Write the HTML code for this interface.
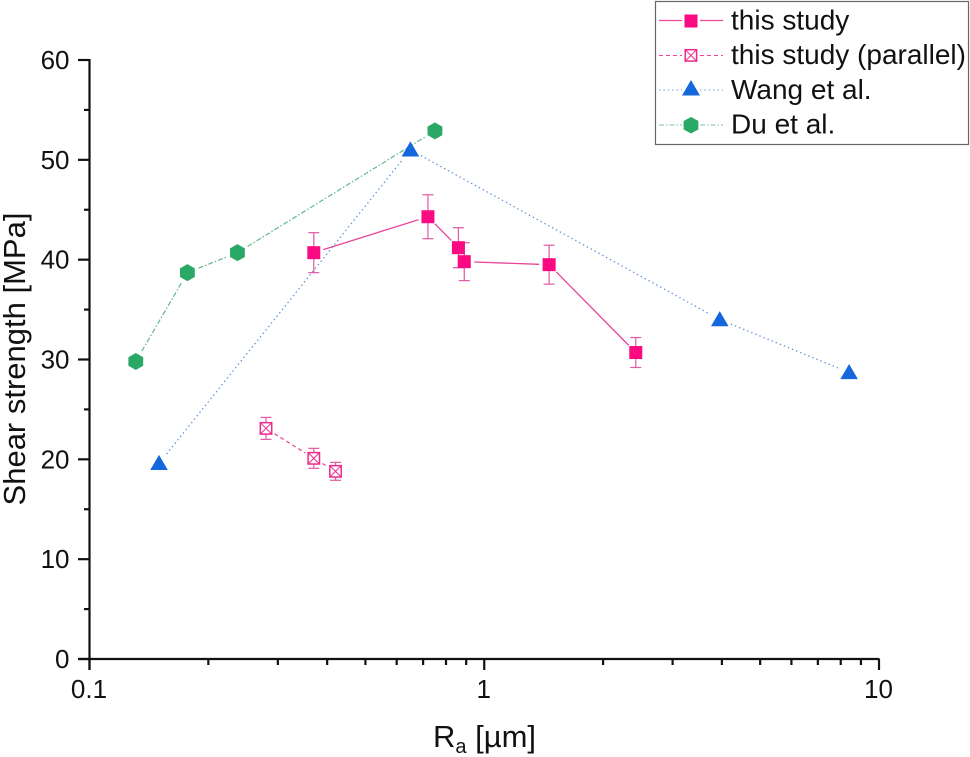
<!DOCTYPE html>
<html>
<head>
<meta charset="utf-8">
<style>
html,body{margin:0;padding:0;background:#fff;width:970px;height:757px;overflow:hidden}
svg{display:block;filter:blur(0.35px)}
text{font-family:"Liberation Sans",sans-serif;fill:#111}
</style>
</head>
<body>
<svg id="chart" width="970" height="757" viewBox="0 0 970 757" xmlns="http://www.w3.org/2000/svg"></svg>
<script>
const yTicks = [0, 10, 20, 30, 40, 50, 60];
const yMinorTicks = [5, 15, 25, 35, 45, 55];
const xTicks = [0.1, 1, 10];
const xTickLabels = ['0.1', '1', '10'];
const xMinorTicks = [0.2, 0.3, 0.4, 0.5, 0.6, 0.7, 0.8, 0.9, 2, 3, 4, 5, 6, 7, 8, 9];

const studyX = [0.37, 0.72, 0.86, 0.89, 1.46, 2.42];
const studyY = [40.7, 44.3, 41.2, 39.8, 39.5, 30.7];
const studyErr = [2.0, 2.2, 2.0, 1.9, 1.95, 1.5];
const parallelX = [0.28, 0.37, 0.42];
const parallelY = [23.1, 20.1, 18.8];
const parallelErr = [1.1, 1.0, 0.9];
const wangX = [0.15, 0.65, 3.95, 8.4];
const wangY = [19.6, 51, 34, 28.7];
const duX = [0.131, 0.177, 0.237, 0.75];
const duY = [29.8, 38.7, 40.7, 52.9];

const svg = document.getElementById('chart');
const NS = 'http://www.w3.org/2000/svg';
const sx = v => 89.5 + (Math.log10(v) + 1) * 394.75;
const sy = v => 659 - v * (599 / 60);

function make(tag, attrs, parent) {
  const el = document.createElementNS(NS, tag);
  for (const k in attrs) el.setAttribute(k, attrs[k]);
  (parent || svg).appendChild(el);
  return el;
}
function group(name) {
  const g = make('g', {});
  
  
  return g;
}
function segs(xs, ys, gap, style, parent) {
  for (let i = 0; i < xs.length - 1; i++) {
    const x1 = sx(xs[i]), y1 = sy(ys[i]), x2 = sx(xs[i + 1]), y2 = sy(ys[i + 1]);
    const d = Math.hypot(x2 - x1, y2 - y1);
    if (d <= gap * 2) continue;
    const ux = (x2 - x1) / d, uy = (y2 - y1) / d;
    make('line', Object.assign({
      x1: x1 + ux * gap, y1: y1 + uy * gap,
      x2: x2 - ux * gap, y2: y2 - uy * gap
    }, style), parent);
  }
}
function errBars(xs, ys, es, color, parent) {
  xs.forEach((v, i) => {
    const x = sx(v), t = sy(ys[i] + es[i]), b = sy(ys[i] - es[i]);
    const st = {stroke: color, 'stroke-width': 1.2, fill: 'none'};
    make('line', Object.assign({x1: x, x2: x, y1: t, y2: b}, st), parent);
    make('line', Object.assign({x1: x - 5.5, x2: x + 5.5, y1: t, y2: t}, st), parent);
    make('line', Object.assign({x1: x - 5.5, x2: x + 5.5, y1: b, y2: b}, st), parent);
  });
}
function square(x, y, p) {
  make('rect', {x: x - 6.5, y: y - 6.5, width: 13, height: 13, fill: '#fb0a82'}, p);
}
function crossSquare(x, y, p) {
  const c = '#ee2a8c';
  make('rect', {x: x - 5.7, y: y - 5.7, width: 11.4, height: 11.4, fill: '#fff', stroke: c, 'stroke-width': 1.5}, p);
  make('path', {d: `M${x - 5.7} ${y - 5.7}L${x + 5.7} ${y + 5.7}M${x + 5.7} ${y - 5.7}L${x - 5.7} ${y + 5.7}`, stroke: c, 'stroke-width': 1, fill: 'none'}, p);
}
function triangle(x, y, p) {
  make('path', {d: `M${x} ${y - 8.5}L${x + 8.8} ${y + 6.7}L${x - 8.8} ${y + 6.7}Z`, fill: '#1567dc'}, p);
}
function hexagon(x, y, p) {
  make('path', {d: `M${x} ${y - 8.5}L${x + 7.4} ${y - 4.3}L${x + 7.4} ${y + 4.3}L${x} ${y + 8.5}L${x - 7.4} ${y + 4.3}L${x - 7.4} ${y - 4.3}Z`, fill: '#2aa866'}, p);
}

/* axes */
const axes = group('axes');
const axisStyle = {stroke: '#111', 'stroke-width': 2.2};
make('line', Object.assign({x1: 89.5, x2: 89.5, y1: 59, y2: 670}, axisStyle), axes);
make('line', Object.assign({x1: 78, x2: 879.5, y1: 659, y2: 659}, axisStyle), axes);
yTicks.forEach(v => {
  make('line', Object.assign({x1: 78, x2: 89.5, y1: sy(v), y2: sy(v)}, axisStyle), axes);
  const t = make('text', {x: 69.5, y: sy(v) + 9, 'text-anchor': 'end', 'font-size': 26}, axes);
  t.textContent = v;
  
  
});
yMinorTicks.forEach(v => make('line', Object.assign({x1: 84, x2: 89.5, y1: sy(v), y2: sy(v)}, axisStyle), axes));
xTicks.forEach((v, i) => {
  make('line', Object.assign({x1: sx(v), x2: sx(v), y1: 659, y2: 670}, axisStyle), axes);
  const t = make('text', {x: sx(v) - 0.5, y: 698, 'text-anchor': 'middle', 'font-size': 26}, axes);
  t.textContent = xTickLabels[i];
  
  
});
xMinorTicks.forEach(v => make('line', Object.assign({x1: sx(v), x2: sx(v), y1: 659, y2: 665}, axisStyle), axes));

const xTitle = make('text', {x: 433, y: 747, 'font-size': 31});


xTitle.innerHTML = 'R<tspan dy="6" font-size="20">a</tspan><tspan dy="-6"> [µm]</tspan>';
const yTitle = make('text', {x: 0, y: 0, 'font-size': 31, 'text-anchor': 'middle', transform: 'translate(25,359) rotate(-90)'});


yTitle.textContent = 'Shear strength [MPa]';

/* series */
const gDu = group('series-du');
segs(duX, duY, 12, {stroke: '#5fb98c', 'stroke-width': 1.2, 'stroke-dasharray': '5 2 1.5 2'}, gDu);
const gWang = group('series-wang');
segs(wangX, wangY, 12, {stroke: '#5f93d6', 'stroke-width': 1.3, 'stroke-dasharray': '1.4 3'}, gWang);
const gStudy = group('series-this-study');
segs(studyX, studyY, 10, {stroke: '#e8449a', 'stroke-width': 1.3}, gStudy);
errBars(studyX, studyY, studyErr, '#df5aa3', gStudy);
const gPar = group('series-this-study-parallel');
segs(parallelX, parallelY, 10, {stroke: '#e8449a', 'stroke-width': 1.2, 'stroke-dasharray': '4 3'}, gPar);
errBars(parallelX, parallelY, parallelErr, '#df5aa3', gPar);

duX.forEach((v, i) => hexagon(sx(v), sy(duY[i]), gDu));
wangX.forEach((v, i) => triangle(sx(v), sy(wangY[i]), gWang));
studyX.forEach((v, i) => square(sx(v), sy(studyY[i]), gStudy));
parallelX.forEach((v, i) => crossSquare(sx(v), sy(parallelY[i]), gPar));
</script>
<svg width="970" height="757" viewBox="0 0 970 757" xmlns="http://www.w3.org/2000/svg" style="position:absolute;left:0;top:0">
  <rect x="655.5" y="1.5" width="313" height="143" fill="#fff" stroke="#666" stroke-width="1.2"/>
  <g>
    <path d="M659 20.5H682M700 20.5H723" stroke="#f0479d" stroke-width="1.2"/>
    <rect x="684.5" y="14.5" width="13" height="13" fill="#fb0a82"/>
    <text x="731" y="29.5" font-size="28">this study</text>
  </g>
  <g>
    <path d="M659 55.5H682M700 55.5H723" stroke="#f0479d" stroke-width="1.1" stroke-dasharray="4 3"/>
    <rect x="685.2" y="49.7" width="11.4" height="11.4" fill="#fff" stroke="#ee2a8c" stroke-width="1.5"/>
    <path d="M685.2 49.7L696.6 61.1M696.6 49.7L685.2 61.1" stroke="#ee2a8c" stroke-width="1"/>
    <text x="731" y="64" font-size="28">this study (parallel)</text>
  </g>
  <g>
    <path d="M659 90H682M700 90H723" stroke="#7fa8de" stroke-width="1.2" stroke-dasharray="1.4 3"/>
    <path d="M691 80L700 95.5H682Z" fill="#1567dc"/>
    <text x="731" y="99" font-size="28">Wang et al.</text>
  </g>
  <g>
    <path d="M659 125H682M700 125H723" stroke="#7fc2a0" stroke-width="1.1" stroke-dasharray="5 2 1.5 2"/>
    <path d="M691 117L698.4 121V129.5L691 133.5L683.6 129.5V121Z" fill="#2aa866"/>
    <text x="731" y="133.5" font-size="28">Du et al.</text>
  </g>
</svg>
</body>
</html>
